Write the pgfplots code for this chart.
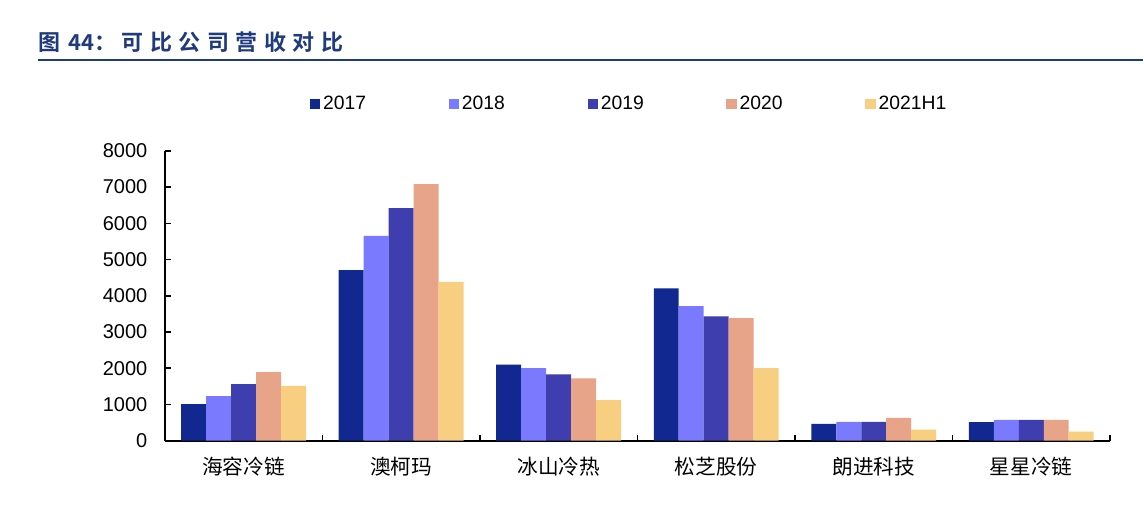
\documentclass[border=0pt]{standalone}
\usepackage{fontspec}
\setmainfont{Liberation Sans}
\newfontfamily\cjk{Noto Sans CJK SC}
\newfontfamily\cjkbold{Noto Sans CJK SC Bold}
\newfontfamily\cjktitle[LetterSpace=30]{Noto Sans CJK SC Bold}
\usepackage{pgfplots}
\pgfplotsset{compat=1.18}
\definecolor{c17}{RGB}{16,40,143}
\definecolor{c18}{RGB}{122,122,255}
\definecolor{c19}{RGB}{62,62,174}
\definecolor{c20}{RGB}{232,164,136}
\definecolor{c21}{RGB}{248,206,128}
\definecolor{titleblue}{RGB}{31,58,125}
\begin{document}
\begin{tikzpicture}
  % page frame, 1144x520 px at 0.75pt per px
  \path[fill=white] (0,0) rectangle (858pt,390pt);
  \node[anchor=west, inner sep=0pt, text=titleblue, font=\fontsize{16.5pt}{18pt}\selectfont]
    at (28.5pt,358.5pt) {{\cjkbold 图}\hspace{6pt}{\cjkbold 44：}\hspace{4pt}{\cjktitle 可比公司营收对比}};
  \draw[titleblue, line width=1.5pt] (28.5pt,345pt) -- (858pt,345pt);
  \begin{axis}[
      at={(123.75pt,59.25pt)}, anchor=south west,
      scale only axis,
      width=709.5pt, height=217.5pt,
      ybar=0pt, bar width=18.75pt,
      xmin=-0.5, xmax=5.5,
      ymin=0, ymax=8000,
      xtick={0,...,5},
      xticklabels={海容冷链,澳柯玛,冰山冷热,松芝股份,朗进科技,星星冷链},
      minor xtick={0.5,1.5,...,5.5},
      major x tick style={draw=none},
      ytick={0,1000,...,8000},
      tick align=inside,
      major tick length=4.5pt, minor tick length=4.5pt,
      tick style={black, line width=1.2pt},
      axis x line*=bottom, axis y line*=left,
      axis line style={-, black, line width=1.5pt},
      scaled y ticks=false,
      /pgf/number format/assume math mode=true,
      yticklabel style={font=\fontsize{15pt}{17pt}\selectfont, inner sep=0pt, xshift=-13pt,
        /pgf/number format/1000 sep={}},
      xticklabel style={font=\cjk\fontsize{15.5pt}{17pt}\selectfont, yshift=-9pt},
      legend columns=5,
      legend style={at={(0.153,1.162)}, anchor=west, draw=none, inner sep=0pt,
        font=\fontsize{14.5pt}{16pt}\selectfont,
        /tikz/every even column/.append style={column sep=60pt}},
      legend image code/.code={\fill[#1] (0pt,-4pt) rectangle (8pt,4pt);},
      clip=false,
    ]
    \addplot[draw=none, fill=c17] coordinates {(0,1010) (1,4710) (2,2100) (3,4200) (4,460) (5,510)};
    \addplot[draw=none, fill=c18] coordinates {(0,1230) (1,5650) (2,2000) (3,3710) (4,520) (5,570)};
    \addplot[draw=none, fill=c19] coordinates {(0,1560) (1,6420) (2,1830) (3,3430) (4,520) (5,570)};
    \addplot[draw=none, fill=c20] coordinates {(0,1890) (1,7080) (2,1720) (3,3380) (4,630) (5,570)};
    \addplot[draw=none, fill=c21] coordinates {(0,1510) (1,4380) (2,1120) (3,2000) (4,300) (5,250)};
    \legend{2017,2018,2019,2020,2021H1}
  \end{axis}
\end{tikzpicture}
\end{document}
